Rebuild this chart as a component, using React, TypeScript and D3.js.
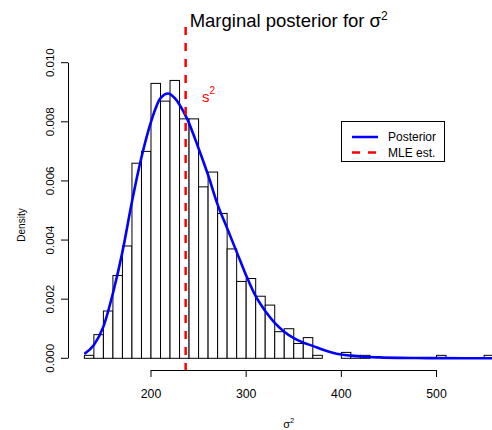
import React from 'react';
import * as d3 from 'd3';

// histogram of posterior draws (density scale), bins of width 10
const breaks = [130, 140, 150, 160, 170, 180, 190, 200, 210, 220, 230, 240, 250, 260, 270, 280,
  290, 300, 310, 320, 330, 340, 350, 360, 370, 380, 390, 400, 410, 420, 430, 440, 450, 460,
  470, 480, 490, 500, 510, 520, 530, 540, 550, 560];
const densities = [0.0001, 0.0008, 0.0016, 0.0028, 0.0038, 0.0066, 0.0070, 0.0093, 0.0087,
  0.0094, 0.0081, 0.0081, 0.0058, 0.0063, 0.0049, 0.0037, 0.0026, 0.0027, 0.0021, 0.0018,
  0.0009, 0.0010, 0.0005, 0.0007, 0.0001, 0, 0, 0.0002, 0.0001, 0.0001, 0, 0, 0, 0, 0, 0, 0,
  0.0001, 0, 0, 0, 0, 0.0001];

// posterior density curve
const curveX = [130, 140, 150, 160, 170, 180, 190, 200, 210, 218, 225, 230, 238, 250, 260, 270,
  280, 290, 300, 310, 320, 330, 340, 350, 360, 370, 380, 390, 400, 410, 420, 440, 460, 480,
  500, 530, 560];
const curveY = [0.00015, 0.00045, 0.00107, 0.0022, 0.0036, 0.0053, 0.0068, 0.0080, 0.0088,
  0.00896, 0.0088, 0.00858, 0.0081, 0.0071, 0.0062, 0.0052, 0.0044, 0.0036, 0.0028, 0.0021,
  0.0016, 0.0012, 0.0009, 0.00068, 0.00053, 0.00042, 0.0003, 0.0002, 0.00013, 0.00009,
  0.00006, 0.00003, 0.000015, 0.00001, 0.000005, 0.000002, 0.000001];

const mle = 236.4;
const xTicks = [200, 300, 400, 500];
const yTicks = [0, 0.002, 0.004, 0.006, 0.008, 0.010];
const legendItems = [
  { label: 'Posterior', color: '#0000ff', dash: '' },
  { label: 'MLE est.', color: '#ff0000', dash: '8,8' },
];

const font = '"Liberation Sans", Arial, Helvetica, sans-serif';

export default function App() {
  const width = 492, height = 430;
  const plot = { left: 68, right: 510, top: 27, bottom: 370 };

  const x = d3.scaleLinear().domain([112.8, 577.2]).range([plot.left, plot.right]);
  const y = d3.scaleLinear().domain([0, 0.01]).range([358.3, 62.7]);

  const line = d3.line<number>()
    .x((d, i) => x(curveX[i]))
    .y(d => y(d))
    .curve(d3.curveMonotoneX);

  return (
    <svg width={width} height={height} style={{ position: 'absolute', left: 0, top: 0 }}
      fontFamily={font}>
      <rect width={width} height={height} fill="white" />
      <defs>
        <clipPath id="plotclip">
          <rect x={plot.left} y={plot.top} width={plot.right - plot.left} height={plot.bottom - plot.top} />
        </clipPath>
      </defs>

      <text x={288.7} y={26.5} fontSize={18.5} textAnchor="middle">
        Marginal posterior for σ<tspan fontSize={12} dy={-7}>2</tspan>
      </text>

      <g clipPath="url(#plotclip)">
        {densities.map((d, i) => (
          <rect key={i} x={x(breaks[i])} y={y(d)} width={x(breaks[i + 1]) - x(breaks[i])}
            height={y(0) - y(d)} fill="white" stroke="black" strokeWidth={1} />
        ))}
        <path d={line(curveY) || ''} fill="none" stroke="#0000ff" strokeWidth={2.6} />
        <line x1={x(mle)} x2={x(mle)} y1={plot.top} y2={plot.bottom} stroke="#ff0000"
          strokeWidth={2.5} strokeDasharray="8,8" />
      </g>

      <text x={202} y={102} fill="#ff0000" fontSize={15}>
        s<tspan fontSize={10} dy={-8}>2</tspan>
      </text>

      {/* x axis */}
      <g>
        <line x1={x(xTicks[0])} x2={x(xTicks[xTicks.length - 1])} y1={plot.bottom + 0.5} y2={plot.bottom + 0.5}
          stroke="black" />
        {xTicks.map(t => (
          <g key={t}>
            <line x1={x(t)} x2={x(t)} y1={plot.bottom} y2={plot.bottom + 7} stroke="black" />
            <text x={x(t)} y={397.7} fontSize={12.3} textAnchor="middle">{t}</text>
          </g>
        ))}
        <text x={288.7} y={428} fontSize={11} textAnchor="middle">
          σ<tspan fontSize={7.5} dy={-5}>2</tspan>
        </text>
      </g>

      {/* y axis */}
      <g>
        <line x1={plot.left + 0.5} x2={plot.left + 0.5} y1={y(0)} y2={y(0.01)} stroke="black" />
        {yTicks.map(t => (
          <g key={t}>
            <line x1={plot.left} x2={plot.left - 7} y1={y(t)} y2={y(t)} stroke="black" />
            <text transform={`translate(54,${y(t)}) rotate(-90)`} fontSize={11.5} textAnchor="middle">
              {d3.format('.3f')(t)}
            </text>
          </g>
        ))}
        <text transform="translate(25,225) rotate(-90)" fontSize={10} textAnchor="middle">Density</text>
      </g>

      {/* legend */}
      <g>
        <rect x={341.5} y={121.5} width={103} height={40} fill="white" stroke="black" />
        {legendItems.map((item, i) => (
          <g key={item.label}>
            <line x1={352} x2={378} y1={137 + i * 15.5} y2={137 + i * 15.5} stroke={item.color}
              strokeWidth={2.5} strokeDasharray={item.dash} />
            <text x={388} y={137 + i * 15.5} dy="0.35em" fontSize={12}>{item.label}</text>
          </g>
        ))}
      </g>
    </svg>
  );
}
